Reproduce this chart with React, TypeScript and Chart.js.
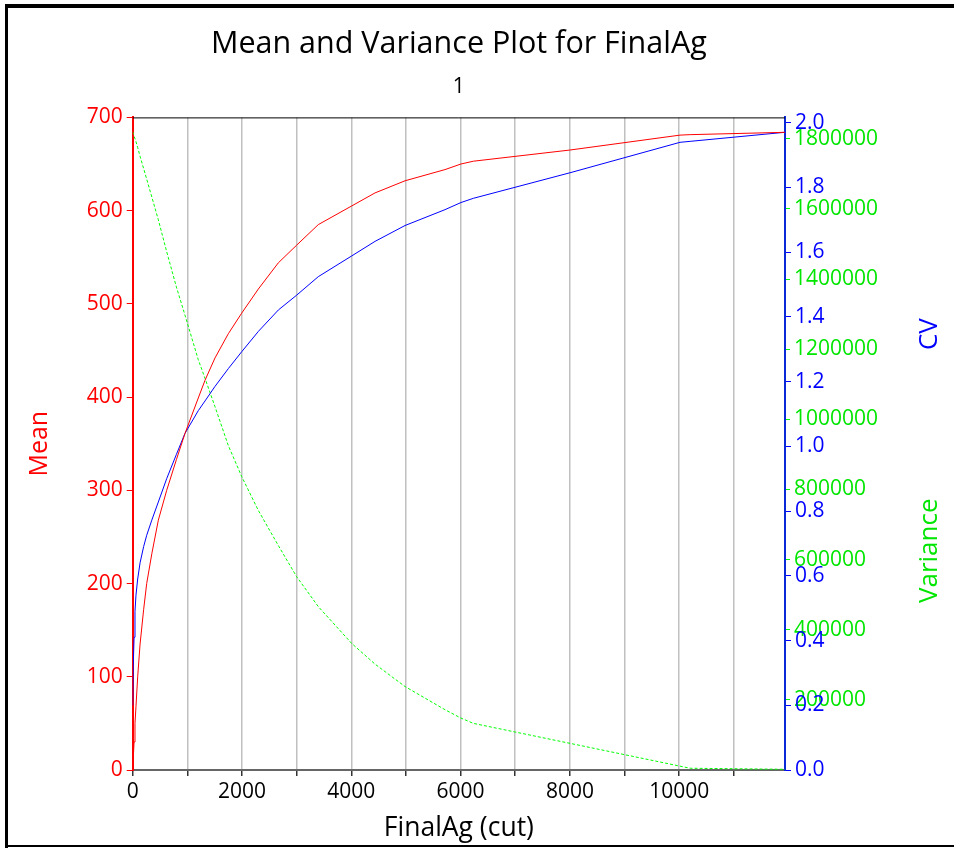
import React, { useEffect, useRef } from 'react';
import { Chart, registerables } from 'chart.js';

Chart.register(...registerables);

// ---- Data ----
const xCut = [0, 10, 25, 42, 60, 91, 135, 200, 256, 350, 469, 622, 800, 957, 1200, 1323, 1506, 1750, 1994, 2300, 2665, 3001, 3396, 4007, 4434, 4983, 5714, 6007, 6233, 8002, 10015, 10200, 11936];
const meanVals = [0, 12, 30, 50, 68, 100, 135, 172, 200, 232, 268, 300, 333, 361, 399, 418, 442, 468, 490, 516, 544, 563, 585, 605, 619, 632, 644, 650, 653, 665, 681, 681.5, 684];
const cvVals = [0.2, 0.32, 0.41, 0.49, 0.54, 0.59, 0.64, 0.69, 0.725, 0.772, 0.828, 0.9, 0.975, 1.04, 1.11, 1.14, 1.185, 1.24, 1.292, 1.355, 1.421, 1.467, 1.524, 1.588, 1.633, 1.682, 1.731, 1.753, 1.766, 1.845, 1.939, 1.942, 1.97];
const varianceVals = [1820000, 1815000, 1808000, 1800000, 1792000, 1775000, 1750000, 1715000, 1685000, 1634000, 1569000, 1478000, 1377000, 1297000, 1170000, 1117000, 1036000, 925000, 837000, 740000, 640000, 551000, 466000, 361000, 302000, 238000, 172000, 148000, 133000, 76000, 11000, 5000, 2000];

// tick values
const xTickValues = [0, 1000, 2000, 3000, 4000, 5000, 6000, 7000, 8000, 9000, 10000, 11000];
const meanTickValues = [0, 100, 200, 300, 400, 500, 600, 700];
const cvTickValues = [0, 0.2, 0.4, 0.6, 0.8, 1.0, 1.2, 1.4, 1.6, 1.8, 2.0];
const varianceTickValues = [0, 200000, 400000, 600000, 800000, 1000000, 1200000, 1400000, 1600000, 1800000];

const titleText = 'Mean and Variance Plot for FinalAg';
const subtitleText = '1';
const xTitle = 'FinalAg (cut)';
const meanTitle = 'Mean';
const cvTitle = 'CV';
const varianceTitle = 'Variance';

const xMax = 11936;
const meanMax = 700;
const cvMax = 2.016;
const varianceMax = 1861000;

const FONT = "'Open Sans', sans-serif";
const RED = '#ff0000';
const BLUE = '#0000ff';
const GREEN = '#00ff00';
const GREEN_TEXT = '#00e600';

const setTicks = (values: number[]) => (s: any) => {
  s.ticks = values.map((value) => ({ value }));
};

const decorPlugin = {
  id: 'decor',
  afterLayout(chart: any) {
    // let the variance axis share the CV axis position (labels overlap as in the reference)
    const s = chart.scales.yVar;
    if (s) {
      s.right = s.left + 169;
      s.width = 169;
    }
  },
  beforeDraw(chart: any) {
    const { ctx } = chart;
    ctx.save();
    ctx.fillStyle = '#ffffff';
    ctx.fillRect(0, 0, chart.width, chart.height);
    ctx.restore();
  },
  afterDraw(chart: any) {
    const { ctx, chartArea } = chart;
    ctx.save();
    // top border of plot area
    ctx.strokeStyle = '#000000';
    ctx.lineWidth = 1;
    ctx.beginPath();
    ctx.moveTo(chartArea.left, chartArea.top + 0.5);
    ctx.lineTo(chartArea.right, chartArea.top + 0.5);
    ctx.stroke();
    // outer frame
    ctx.fillStyle = '#000000';
    ctx.fillRect(5, 4, chart.width - 5, 4);
    ctx.fillRect(5, 4, 3, chart.height - 4);
    ctx.fillRect(5, chart.height - 3, chart.width - 5, 2);
    // right axis titles
    const h = chartArea.bottom - chartArea.top;
    ctx.font = `26px ${FONT}`;
    ctx.textAlign = 'center';
    ctx.textBaseline = 'middle';
    ctx.save();
    ctx.translate(930, chartArea.top + h * 0.332);
    ctx.rotate(-Math.PI / 2);
    ctx.fillStyle = BLUE;
    ctx.fillText(cvTitle, 0, 0);
    ctx.restore();
    ctx.save();
    ctx.translate(930, chartArea.top + h * 0.664);
    ctx.rotate(-Math.PI / 2);
    ctx.fillStyle = GREEN_TEXT;
    ctx.fillText(varianceTitle, 0, 0);
    ctx.restore();
    ctx.restore();
  },
};

export default function App() {
  const canvasRef = useRef<HTMLCanvasElement | null>(null);

  useEffect(() => {
    if (!canvasRef.current) return;
    const chart = new Chart(canvasRef.current, {
      type: 'line',
      data: {
        datasets: [
          {
            label: 'Mean',
            data: xCut.map((x, i) => ({ x, y: meanVals[i] })),
            borderColor: RED,
            borderWidth: 1,
            pointRadius: 0,
            yAxisID: 'yMean',
            tension: 0,
          },
          {
            label: 'CV',
            data: xCut.map((x, i) => ({ x, y: cvVals[i] })),
            borderColor: BLUE,
            borderWidth: 1,
            pointRadius: 0,
            yAxisID: 'yCV',
            tension: 0,
          },
          {
            label: 'Variance',
            data: xCut.map((x, i) => ({ x, y: varianceVals[i] })),
            borderColor: GREEN,
            borderWidth: 1,
            borderDash: [3, 2],
            pointRadius: 0,
            yAxisID: 'yVar',
            tension: 0,
          },
        ],
      },
      options: {
        responsive: false,
        animation: false,
        events: [],
        layout: { padding: { top: 0, left: 0, right: 0, bottom: 0 } },
        plugins: {
          legend: { display: false },
          tooltip: { enabled: false },
          title: {
            display: true,
            text: titleText,
            color: '#000000',
            fullSize: false,
            font: { family: FONT, size: 30.5, weight: 'normal', lineHeight: 1.2 },
            padding: { top: 26, bottom: 0 },
          },
          subtitle: {
            display: true,
            text: subtitleText,
            color: '#000000',
            fullSize: false,
            font: { family: FONT, size: 21, weight: 'normal', lineHeight: 1.2 },
            padding: { top: 12, bottom: 17.6 },
          },
        },
        scales: {
          x: {
            type: 'linear',
            position: 'bottom',
            min: 0,
            max: xMax,
            afterBuildTicks: setTicks(xTickValues),
            afterFit: (s: any) => { s.height = 78; },
            ticks: {
              autoSkip: false,
              maxRotation: 0,
              padding: 3,
              color: '#000000',
              font: { family: FONT, size: 21 },
              callback: (v: any) => (Math.round(Number(v)) % 2000 === 0 ? String(Math.round(Number(v))) : ''),
            },
            grid: {
              color: '#c0c0c0',
              lineWidth: 1.5,
              tickColor: '#333333',
              tickLength: 6,
            },
            border: { color: '#666666', width: 2 },
            title: {
              display: true,
              text: xTitle,
              color: '#000000',
              font: { family: FONT, size: 26.5 },
              padding: { top: 0, bottom: 4 },
            },
          },
          yMean: {
            type: 'linear',
            position: 'left',
            min: 0,
            max: meanMax,
            afterBuildTicks: setTicks(meanTickValues),
            afterFit: (s: any) => { s.width = 132.7; },
            ticks: {
              autoSkip: false,
              padding: 4,
              color: RED,
              font: { family: FONT, size: 21 },
              callback: (v: any) => String(v),
            },
            grid: { drawOnChartArea: false, tickColor: RED, tickLength: 6 },
            border: { color: RED, width: 2 },
            title: {
              display: true,
              text: meanTitle,
              color: RED,
              font: { family: FONT, size: 25 },
              padding: { top: 25, bottom: 0 },
            },
          },
          yVar: {
            type: 'linear',
            position: 'right',
            weight: 0,
            min: 0,
            max: varianceMax,
            afterBuildTicks: setTicks(varianceTickValues),
            afterFit: (s: any) => { s.width = 0; },
            ticks: {
              autoSkip: false,
              padding: 4,
              color: GREEN_TEXT,
              font: { family: FONT, size: 21 },
              callback: (v: any) => (Number(v) === 0 ? '' : String(v)),
            },
            grid: { drawOnChartArea: false, tickColor: GREEN, tickLength: 5 },
            border: { display: false },
          },
          yCV: {
            type: 'linear',
            position: 'right',
            weight: 1,
            min: 0,
            max: cvMax,
            afterBuildTicks: setTicks(cvTickValues),
            afterFit: (s: any) => { s.width = 169; },
            ticks: {
              autoSkip: false,
              padding: 4,
              color: BLUE,
              font: { family: FONT, size: 21 },
              callback: (v: any) => Number(v).toFixed(1),
            },
            grid: { drawOnChartArea: false, tickColor: BLUE, tickLength: 6 },
            border: { color: '#0a28d8', width: 2 },
          },
        },
      },
      plugins: [decorPlugin],
    } as any);
    return () => chart.destroy();
  }, []);

  return (
    <div style={{ position: 'absolute', left: 0, top: 0, width: 954, height: 848 }}>
      <canvas ref={canvasRef} width={954} height={848} style={{ display: 'block' }} />
    </div>
  );
}
